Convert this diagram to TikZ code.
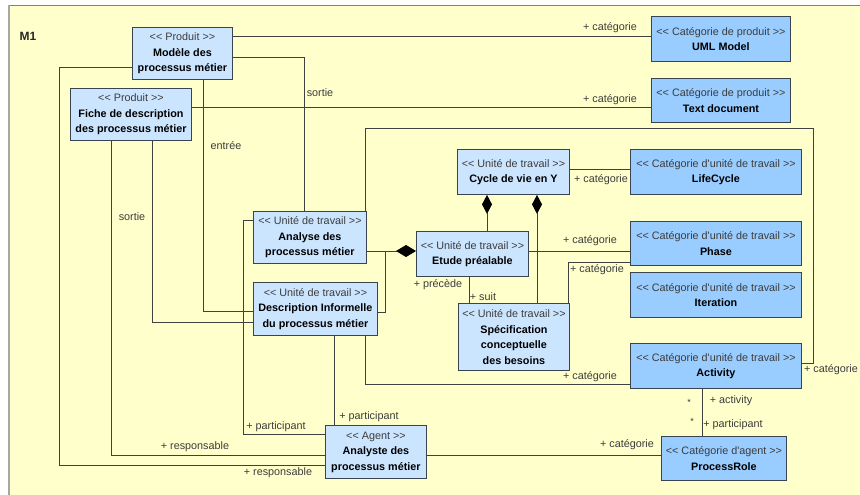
\documentclass[tikz,border=0pt]{standalone}
\usepackage{fontspec}
\setmainfont{Liberation Sans}
\usetikzlibrary{arrows.meta}
\definecolor{framebg}{HTML}{FFFFCC}
\definecolor{lightb}{HTML}{CCE5FF}
\definecolor{darkb}{HTML}{99CCFF}
\definecolor{bordc}{HTML}{3A4450}
\definecolor{linec}{HTML}{404040}
\definecolor{stc}{HTML}{3C3C3C}
\newcommand\stO{\textless\kern0pt\textless\ }
\newcommand\stC{\ \textgreater\kern0pt\textgreater}
\newcommand\ster[1]{{\color{stc}\stO #1\stC}}
\newcommand\apo{\textquotesingle}
\tikzset{
  box/.style={draw=bordc, line width=0.9pt, anchor=north west, inner sep=1pt, align=center,
    font=\fontsize{10.8}{15.5}\selectfont},
  wbox/.style={box, fill=lightb},
  cbox/.style={box, fill=darkb},
  conn/.style={draw=linec, line width=0.9pt},
  comp/.style={conn, -{Diamond[length=20pt,width=12pt,color=black]}},
  compv/.style={conn, -{Diamond[length=19pt,width=10pt,color=black]}},
  lab/.style={text=stc, inner sep=0pt, font=\fontsize{10.8}{12}\selectfont},
}
\begin{document}
\begin{tikzpicture}[x=1pt,y=-1pt]
\useasboundingbox (0,0) rectangle (860,495);
\fill[white] (0,0) rectangle (860,495);
\fill[framebg] (8,5) rectangle (860,495);
\draw[gray, line width=0.8pt] (860,5) -- (8,5);
\draw[gray!70, line width=2pt] (9,5) -- (9,495);
\node[font=\fontsize{12}{14}\selectfont\bfseries, text=black!85] (m1) at (28,36) {M1};

% boxes
\node[wbox, minimum width=100pt, minimum height=52pt] (mod) at (132,27)
  {\ster{Produit}\\\textbf{Modèle des}\\\textbf{processus métier}};
\node[wbox, minimum width=121pt, minimum height=52pt] (fiche) at (70,88)
  {\ster{Produit}\\\textbf{Fiche de description}\\\textbf{des processus métier}};
\node[cbox, minimum width=139pt, minimum height=45pt] (uml) at (651,16)
  {\ster{Catégorie de produit}\\\textbf{UML Model}};
\node[cbox, minimum width=139pt, minimum height=44pt] (txt) at (651,78)
  {\ster{Catégorie de produit}\\\textbf{Text document}};
\node[wbox, minimum width=112pt, minimum height=45pt] (cycle) at (457,149)
  {\ster{Unité de travail}\\\textbf{Cycle de vie en Y}};
\node[cbox, minimum width=171pt, minimum height=45pt] (life) at (630,149)
  {\ster{Catégorie d\apo unité de travail}\\\textbf{LifeCycle}};
\node[cbox, minimum width=171pt, minimum height=44pt] (phase) at (630,221)
  {\ster{Catégorie d\apo unité de travail}\\\textbf{Phase}};
\node[cbox, minimum width=171pt, minimum height=45pt] (iter) at (630,272)
  {\ster{Catégorie d\apo unité de travail}\\\textbf{Iteration}};
\node[cbox, minimum width=171pt, minimum height=45pt] (act) at (630,343)
  {\ster{Catégorie d\apo unité de travail}\\\textbf{Activity}};
\node[cbox, minimum width=125pt, minimum height=44pt] (role) at (661,436)
  {\ster{Catégorie d\apo agent}\\\textbf{ProcessRole}};
\node[wbox, minimum width=113pt, minimum height=52pt] (ana) at (253,211)
  {\ster{Unité de travail}\\\textbf{Analyse des}\\\textbf{processus métier}};
\node[wbox, minimum width=112pt, minimum height=45pt] (etude) at (416,231)
  {\ster{Unité de travail}\\\textbf{Etude préalable}};
\node[wbox, minimum width=124pt, minimum height=53pt] (desc) at (253,282)
  {\ster{Unité de travail}\\\textbf{Description Informelle}\\\textbf{du processus métier}};
\node[wbox, minimum width=111pt, minimum height=67pt] (spec) at (458,303)
  {\ster{Unité de travail}\\\textbf{Spécification}\\\textbf{conceptuelle}\\\textbf{des besoins}};
\node[wbox, minimum width=101pt, minimum height=53pt] (agent) at (325,425)
  {\ster{Agent}\\\textbf{Analyste des}\\\textbf{processus métier}};

% route coordinates
\coordinate (ra) at (0,36);
\coordinate (rb) at (304,57);
\coordinate (rc) at (59,67);
\coordinate (rc2) at (59,465);
\coordinate (rd) at (203,311);
\coordinate (re) at (0,107);
\coordinate (rf) at (111,455);
\coordinate (rg) at (152,322);
\coordinate (rh) at (243,220);
\coordinate (rh2) at (243,434);
\coordinate (ri) at (365,128);
\coordinate (ri2) at (813,363);
\coordinate (rj) at (385,251);
\coordinate (rj2) at (385,312);
\coordinate (rk) at (487,0);
\coordinate (rl) at (537,0);
\coordinate (rm) at (469,0);
\coordinate (ro) at (568,262);
\coordinate (rp) at (365,384);
\coordinate (rq) at (334,0);
\coordinate (rr) at (0,169);
\coordinate (rs) at (702,0);

% connectors
\draw[conn] (mod.east |- ra) -- (uml.west |- ra);
\draw[conn] (mod.east |- rb) -| (ana.north -| rb);
\draw[conn] (mod.west |- rc) -- (rc) |- (agent.west |- rc2);
\draw[conn] (mod.south -| rd) |- (desc.west |- rd);
\draw[conn] (fiche.east |- re) -- (txt.west |- re);
\draw[conn] (fiche.south -| rf) |- (agent.west |- rf);
\draw[conn] (fiche.south -| rg) |- (desc.west |- rg);
\draw[conn] (ana.west |- rh) -- (rh) |- (agent.west |- rh2);
\draw[conn] (ana.north -| ri) -- (ri) -| (ri2) -- (act.east |- ri2);
\draw[comp] (ana.east |- rj) -- (etude.west |- rj);
\draw[conn] (desc.east |- rj2) -| (rj);
\draw[compv] (etude.north -| rk) -- (cycle.south -| rk);
\draw[compv] (spec.north -| rl) -- (cycle.south -| rl);
\draw[conn] (etude.south -| rm) -- (spec.north -| rm);
\draw[conn] (etude.east |- rj) -- (phase.west |- rj);
\draw[conn] (spec.north -| ro) |- (phase.west |- ro);
\draw[conn] (desc.south -| rp) |- (act.west |- rp);
\draw[conn] (desc.south -| rq) -- (agent.north -| rq);
\draw[conn] (cycle.east |- rr) -- (life.west |- rr);
\draw[conn] (act.south -| rs) -- (role.north -| rs);
\draw[conn] (agent.east |- rf) -- (role.west |- rf);

% labels
\node[lab] (l1) at (610,28) {+ catégorie};
\node[lab] (l2) at (320,93) {sortie};
\node[lab] (l3) at (610,100) {+ catégorie};
\node[lab] (l4) at (226,146) {entrée};
\node[lab] (l5) at (132,217) {sortie};
\node[lab] (l6) at (601,180) {+ catégorie};
\node[lab] (l7) at (590,241) {+ catégorie};
\node[lab] (l8) at (597,270) {+ catégorie};
\node[lab] (l9) at (438,285) {+ précède};
\node[lab] (l10) at (483,297) {+ suit};
\node[lab] (l11) at (590,377) {+ catégorie};
\node[lab] (l12) at (831,370) {+ catégorie};
\node[lab, font=\fontsize{9}{10}\selectfont] (l13) at (689,402) {*};
\node[lab] (l14) at (731,401) {+ activity};
\node[lab, font=\fontsize{9}{10}\selectfont] (l15) at (692,421) {*};
\node[lab] (l16) at (733,425) {+ participant};
\node[lab] (l17) at (627,445) {+ catégorie};
\node[lab] (l18) at (369,417) {+ participant};
\node[lab] (l19) at (276,427) {+ participant};
\node[lab] (l20) at (195,447) {+ responsable};
\node[lab] (l21) at (278,473) {+ responsable};
\end{tikzpicture}
\end{document}
